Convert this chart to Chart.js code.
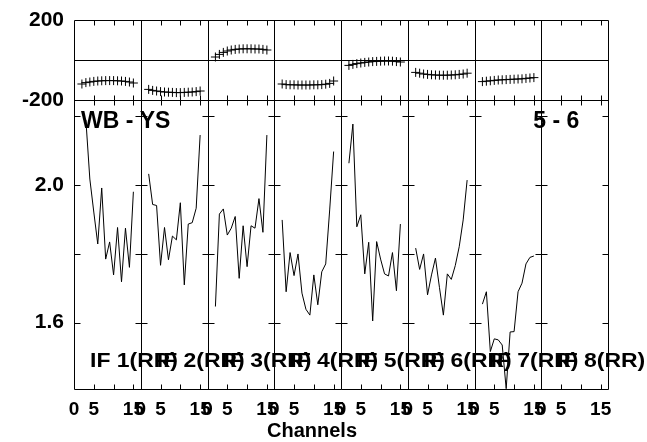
<!DOCTYPE html>
<html><head><meta charset="utf-8">
<script src="https://cdn.jsdelivr.net/npm/chart.js@4.4.0/dist/chart.umd.min.js"></script>
<style>html,body{margin:0;padding:0;background:#fff;}canvas{display:block;}</style>
</head><body>
<canvas id="c" width="647" height="442"></canvas>
<script>
// ---- data ----
const ifLabels = ['IF 1(RR)','IF 2(RR)','IF 3(RR)','IF 4(RR)','IF 5(RR)','IF 6(RR)','IF 7(RR)','IF 8(RR)'];
const channels = [2,3,4,5,6,7,8,9,10,11,12,13,14,15];
const phaseIF1 = [-120,-113,-110,-107,-105,-104,-103,-103,-103,-104,-105,-107,-110,-115];
const phaseIF2 = [-147,-152,-155,-158,-160,-161,-162,-163,-163,-162,-161,-160,-158,-155];
const phaseIF3 = [15,28,38,45,50,53,55,56,56,56,55,55,53,50];
const phaseIF4 = [-120,-123,-124,-124,-125,-125,-125,-125,-124,-124,-123,-121,-117,-105];
const phaseIF5 = [-27,-22,-18,-15,-12,-10,-8,-7,-6,-5,-5,-6,-8,-10];
const phaseIF6 = [-62,-66,-70,-72,-74,-75,-76,-76,-76,-75,-74,-72,-70,-66];
const phaseIF7 = [-108,-106,-104,-102,-100,-99,-98,-97,-96,-95,-94,-92,-90,-88];
const phaseIF8 = [];
const ampIF1 = [null,2.190,2.018,1.922,1.829,1.992,1.785,1.835,1.739,1.877,1.719,1.875,1.761,1.981];
const ampIF2 = [2.033,1.944,1.941,1.767,1.877,1.783,1.852,1.841,1.949,1.710,1.887,1.891,1.933,2.146];
const ampIF3 = [1.647,1.916,1.931,1.855,1.875,1.909,1.729,1.882,1.763,1.882,1.875,1.961,1.863,2.146];
const ampIF4 = [1.899,1.690,1.804,1.737,1.800,1.686,1.639,1.622,1.739,1.652,1.748,1.771,1.928,2.098];
const ampIF5 = [2.064,2.178,1.879,1.914,1.742,1.834,1.605,1.836,1.785,1.742,1.736,1.804,1.693,1.887];
const ampIF6 = [1.817,1.755,1.800,1.681,1.739,1.788,1.703,1.622,1.742,1.726,1.766,1.821,1.899,2.015];
const ampIF7 = [1.654,1.690,1.516,1.553,1.550,1.535,1.408,1.573,1.574,1.690,1.715,1.771,1.790,1.794];
const ampIF8 = [];
const xTickChannels = [0,5,15];
const xMinorChannels = [5,10,15];
const ampTickValues = [1.6,1.8,2.0,2.2];
const ampLabelValues = [1.6,2.0];
const phaseLabelValues = [-200,200];
const baselineText = 'WB - YS';
const stokesText = '5 - 6';
const xTitle = 'Channels';

// ---- layout constants ----
const W = 16.86;           // channel units per IF panel
const NP = 8;
const FONT = '"Liberation Sans", Arial, sans-serif';
const phases = [phaseIF1,phaseIF2,phaseIF3,phaseIF4,phaseIF5,phaseIF6,phaseIF7,phaseIF8];
const amps = [ampIF1,ampIF2,ampIF3,ampIF4,ampIF5,ampIF6,ampIF7,ampIF8];

const datasets = [];
for (let k = 0; k < NP; k++) {
  if (amps[k].length) datasets.push({
    type:'line', yAxisID:'y', data: channels.map((c,i)=>({x:k*W+c, y:amps[k][i]})),
    borderColor:'#000', borderWidth:1, pointRadius:0, tension:0, spanGaps:false, fill:false
  });
  if (phases[k].length) datasets.push({
    type:'line', yAxisID:'yp', data: channels.map((c,i)=>({x:k*W+c, y:phases[k][i]})),
    showLine:false, borderColor:'#000', pointStyle:'cross', pointRadius:4.5, pointBorderWidth:1,
    pointBorderColor:'#000'
  });
}

function fixAxis(s, w, h) {
  if (w !== undefined) s.width = w;
  if (h !== undefined) s.height = h;
  s.paddingTop = 0; s.paddingBottom = 0; s.paddingLeft = 0; s.paddingRight = 0;
}

function wideText(ctx, txt, px, py, sx) {
  ctx.save(); ctx.translate(px, py); ctx.scale(sx, 1); ctx.fillText(txt, 0, 0); ctx.restore();
}

const framePlugin = {
  id:'frame',
  afterDatasetsDraw(chart) {
    const {ctx} = chart;
    const x = chart.scales.x, y = chart.scales.y, yp = chart.scales.yp;
    const r = v => Math.round(v) + 0.5;
    const L = r(x.left), R = r(x.right);
    const pT = r(yp.top), pB = r(yp.bottom), aB = r(y.bottom);
    ctx.save();
    ctx.strokeStyle = '#000'; ctx.lineWidth = 1;
    ctx.beginPath();
    [pT, pB, aB, r(yp.getPixelForValue(0))].forEach(yy => { ctx.moveTo(L, yy); ctx.lineTo(R, yy); });
    for (let k = 0; k <= NP; k++) {
      const px = r(x.getPixelForValue(k*W));
      ctx.moveTo(px, pT); ctx.lineTo(px, aB);
    }
    const tl = 5;
    for (let k = 0; k < NP; k++) {
      xMinorChannels.forEach(c => {
        const px = r(x.getPixelForValue(k*W + c));
        ctx.moveTo(px, pT); ctx.lineTo(px, pT + tl);
        ctx.moveTo(px, pB); ctx.lineTo(px, pB - tl);
        ctx.moveTo(px, pB); ctx.lineTo(px, pB + tl);
        ctx.moveTo(px, aB); ctx.lineTo(px, aB - tl);
      });
    }
    ampTickValues.forEach(v => {
      const py = r(y.getPixelForValue(v));
      for (let k = 0; k <= NP; k++) {
        const px = r(x.getPixelForValue(k*W));
        ctx.moveTo(Math.max(L, px - 6), py); ctx.lineTo(Math.min(R, px + 6), py);
      }
    });
    ctx.stroke();
    ctx.fillStyle = '#000';
    ctx.textBaseline = 'alphabetic';
    ctx.textAlign = 'left';
    ctx.font = 'bold 23px ' + FONT;
    ctx.fillText(baselineText, x.left + 7, y.top + 28);
    ctx.fillText(stokesText, x.getPixelForValue(7*W) - 8, y.top + 28);
    ctx.font = 'bold 20.5px ' + FONT;
    for (let k = 0; k < NP; k++) {
      wideText(ctx, ifLabels[k], x.getPixelForValue(k*W) + 16, y.bottom - 22, 1.12);
    }
    ctx.font = 'bold 20px ' + FONT;
    ctx.textAlign = 'center';
    ctx.textBaseline = 'middle';
    ctx.fillText(xTitle, 312, 431);
    ctx.restore();
  }
};

new Chart(document.getElementById('c'), {
  type:'line',
  data:{datasets},
  plugins:[framePlugin],
  options:{
    responsive:false, animation:false, events:[], devicePixelRatio:1,
    layout:{padding:{left:0, right:39, top:20, bottom:0}},
    plugins:{legend:{display:false}, tooltip:{enabled:false}},
    scales:{
      x:{
        type:'linear', min:0, max:NP*W, position:'bottom',
        grid:{display:false, drawTicks:false}, border:{display:false},
        afterBuildTicks(s){ const t=[]; for(let k=0;k<NP;k++) xTickChannels.forEach(c=>t.push({value:k*W+c})); s.ticks=t; },
        afterFit(s){ fixAxis(s, undefined, 53); },
        ticks:{ autoSkip:false, maxRotation:0, padding:9, color:'#000',
          font:{family:FONT, weight:'bold', size:19},
          callback(v){ const k = Math.floor((v+0.001)/W); return String(Math.round(v - k*W)); } },
        title:{display:false}
      },
      y:{
        type:'linear', position:'left', stack:'s', stackWeight:289, min:1.407, max:2.248,
        grid:{display:false, drawTicks:false}, border:{display:false},
        afterBuildTicks(s){ s.ticks = ampLabelValues.map(v=>({value:v})); },
        afterFit(s){ fixAxis(s, 74); },
        ticks:{ padding:10, color:'#000', font:{family:FONT, weight:'bold', size:21},
          callback(v){ return Number(v).toFixed(1); } }
      },
      yp:{
        type:'linear', position:'left', stack:'s', stackWeight:80, min:-200, max:200,
        grid:{display:false, drawTicks:false}, border:{display:false},
        afterBuildTicks(s){ s.ticks = phaseLabelValues.map(v=>({value:v})); },
        afterFit(s){ fixAxis(s, 74); },
        ticks:{ padding:10, color:'#000', font:{family:FONT, weight:'bold', size:21},
          callback(v){ return String(v); } }
      }
    }
  }
});
</script>
</body></html>
